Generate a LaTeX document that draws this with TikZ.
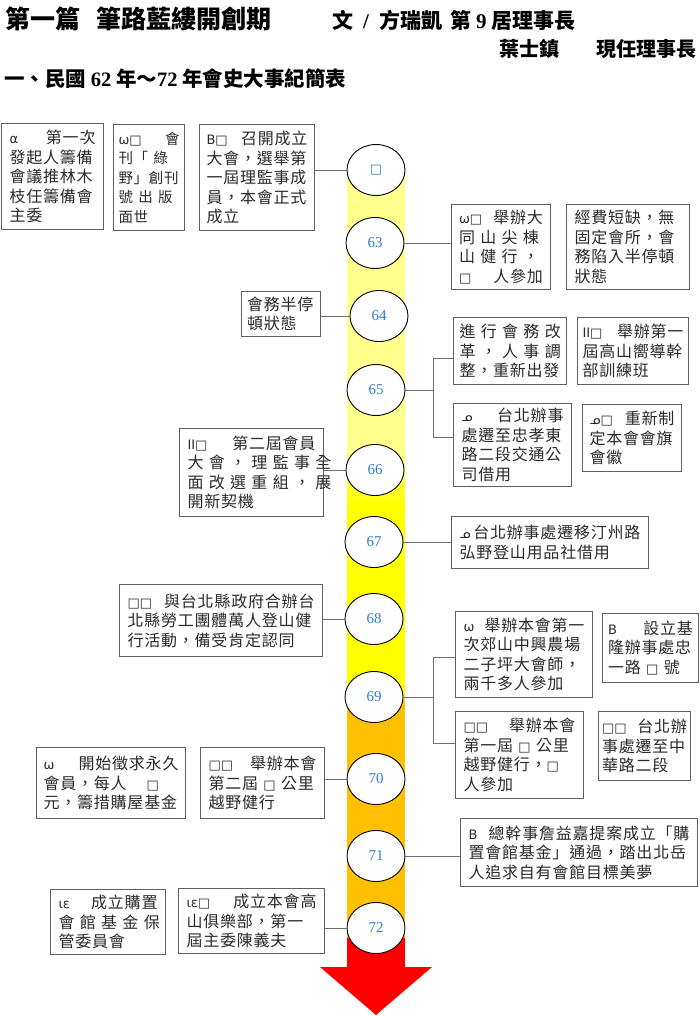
\documentclass[tikz,border=0pt]{standalone}
\usepackage{fontspec}
\usetikzlibrary{shapes.geometric}
\newfontfamily\cjkf{Noto Sans CJK TC}
\newfontfamily\boxcjk{Noto Sans CJK TC}[LetterSpace=5]
\newfontfamily\numf{Liberation Serif}
\newfontfamily\dv{DejaVu Sans}
\definecolor{boxgray}{HTML}{606060}
\definecolor{linkgray}{HTML}{707070}
\definecolor{txt}{HTML}{2A2A2A}
\definecolor{numblue}{HTML}{3080D0}
\definecolor{paleyel}{HTML}{FFFF8C}
\definecolor{yel}{HTML}{FFFF00}
\definecolor{org}{HTML}{FFC000}
\definecolor{arred}{HTML}{FF0000}
\newcommand\pfx[1]{{\dv\fontsize{13}{13}\selectfont #1}}
\newcommand\spr[1]{\makebox[\linewidth][s]{#1}}
\tikzset{
  evbox/.style={draw=boxgray, line width=1pt, fill=white, inner sep=0pt, anchor=north west, align=left, text=txt, font=\boxcjk\fontsize{16}{19.5}\selectfont},
  yr/.style={ellipse, draw=black, line width=0.9pt, fill=white, minimum width=58pt, minimum height=51pt, inner sep=0pt, text=numblue, font=\numf\fontsize{15}{15}\selectfont},
  link/.style={draw=linkgray, line width=0.9pt},
  hdr/.style={inner sep=0pt, text=black},
}
\begin{document}
\begin{tikzpicture}[x=1pt,y=-1pt]
\useasboundingbox (0,0) rectangle (700,1016);
\fill[white] (0,0) rectangle (700,1016);
% header
\node[hdr, anchor=base west, font=\cjkf\bfseries\fontsize{25}{25}\selectfont] (t1) at (5,29) {第一篇\hskip 16pt筆路藍縷開創期};
\node[hdr, anchor=base west, font=\cjkf\bfseries\fontsize{21}{21}\selectfont] (t2) at (332,29) {文\hskip 10pt{\numf\bfseries /}\hskip 10pt方瑞凱\hskip 8pt第\hskip 5pt{\numf\bfseries 9}\hskip 5pt居理事長};
\node[hdr, anchor=base east, font=\cjkf\bfseries\fontsize{20}{20}\selectfont] (t3) at (697,57) {葉士鎮\hskip 37pt現任理事長};
\node[hdr, anchor=base west, font=\cjkf\bfseries\fontsize{20.5}{20.5}\selectfont] (t4) at (4,87) {一、民國 {\numf\bfseries 62} 年～{\numf\bfseries 72} 年會史大事紀簡表};
% arrow body
\fill[paleyel] (347,170) rectangle (405,450);
\shade[top color=paleyel, bottom color=yel] (347,450) rectangle (405,505);
\fill[yel] (347,505) rectangle (405,700);
\fill[org] (347,700) rectangle (405,938);
\fill[arred] (347,938) rectangle (405,968);
\fill[arred] (320,967) -- (432,967) -- (376,1015) -- cycle;
% year circles
\node[yr] (c0) at (376,170) {\pfx{□}};
\node[yr] (c63) at (375,243) {63};
\node[yr] (c64) at (379,316) {64};
\node[yr] (c65) at (376,390) {65};
\node[yr] (c66) at (375,470) {66};
\node[yr] (c67) at (374,542) {67};
\node[yr] (c68) at (374,619) {68};
\node[yr] (c69) at (374,697) {69};
\node[yr] (c70) at (376,779) {70};
\node[yr] (c71) at (376,856) {71};
\node[yr] (c72) at (376,928) {72};
% event boxes
\node[evbox, minimum width=102pt, minimum height=106pt, text width=86pt] (A) at (1,123) {\pfx{α}\hfill 第一次\\發起人籌備\\會議推林木\\枝任籌備會\\主委};
\node[evbox, minimum width=71pt, minimum height=106pt, text width=61pt] (B) at (113,124) {\fontsize{14.5}{19.5}\selectfont\pfx{ω□}\hfill 會\\\spr{刊「 綠}\\野」創刊\\\spr{號 出 版}\\面世};
\node[evbox, minimum width=115pt, minimum height=106pt, text width=101pt] (C) at (199,124) {\pfx{B□}\hfill 召開成立\\大會，選舉第\\一屆理監事成\\員，本會正式\\成立};
\node[evbox, minimum width=99pt, minimum height=85pt, text width=84pt] (D) at (451,204) {\pfx{ω□}\hfill 舉辦大\\\spr{同 山 尖 棟}\\\spr{山 健 行 ，}\\\pfx{□}\hfill 人參加};
\node[evbox, minimum width=123pt, minimum height=85pt, text width=107pt] (E) at (566,204) {經費短缺，無\\固定會所，會\\務陷入半停頓\\狀態};
\node[evbox, minimum width=79pt, minimum height=45pt, text width=68pt] (F) at (241,291) {會務半停\\頓狀態};
\node[evbox, minimum width=113pt, minimum height=67pt, text width=101pt] (G) at (453,317) {\spr{進 行 會 務 改}\\\spr{革 ， 人 事 調}\\整，重新出發};
\node[evbox, minimum width=111pt, minimum height=67pt, text width=101pt] (H) at (577,317) {\pfx{ΙΙ□}\hfill 舉辦第一\\屆高山嚮導幹\\部訓練班};
\node[evbox, minimum width=118pt, minimum height=83pt, text width=102pt] (I) at (453,403) {\pfx{ᓄ}\hfill 台北辦事\\處遷至忠孝東\\路二段交通公\\司借用};
\node[evbox, minimum width=99pt, minimum height=67pt, text width=85pt] (J) at (582,404) {\pfx{ᓄ□}\hfill 重新制\\定本會會旗\\會徽};
\node[evbox, minimum width=144pt, minimum height=88pt, text width=128pt] (K) at (179,428) {\pfx{ΙΙ□}\hfill 第二屆會員\\\spr{大 會 ， 理 監 事 全}\\\spr{面 改 選 重 組 ， 展}\\開新契機};
\node[evbox, minimum width=197pt, minimum height=52pt, text width=181pt] (L) at (451,516) {\pfx{ᓄ}\hfill 台北辦事處遷移汀州路\\弘野登山用品社借用};
\node[evbox, minimum width=203pt, minimum height=72pt, text width=187pt] (M) at (119,584) {\pfx{□□}\hfill 與台北縣政府合辦台\\北縣勞工團體萬人登山健\\行活動，備受肯定認同};
\node[evbox, minimum width=137pt, minimum height=86pt, text width=121pt] (N) at (455,611) {\pfx{ω}\hfill 舉辦本會第一\\次郊山中興農場\\二子坪大會師，\\兩千多人參加};
\node[evbox, minimum width=96pt, minimum height=69pt, text width=85pt] (O) at (602,613) {\pfx{B}\hfill 設立基\\隆辦事處忠\\一路 \pfx{□} 號};
\node[evbox, minimum width=128pt, minimum height=87pt, text width=112pt] (P) at (455,711) {\pfx{□□}\hfill 舉辦本會\\第一屆 \pfx{□} 公里\\越野健行，\pfx{□}\\人參加};
\node[evbox, minimum width=92pt, minimum height=69pt, text width=85pt] (Q) at (598,711) {\pfx{□□}\hfill 台北辦\\事處遷至中\\華路二段};
\node[evbox, minimum width=149pt, minimum height=71pt, text width=135pt] (R) at (36,747) {\pfx{ω}\hfill 開始徵求永久\\會員，每人\hskip 20pt\pfx{□}\\元，籌措購屋基金};
\node[evbox, minimum width=124pt, minimum height=71pt, text width=108pt] (S) at (200,747) {\pfx{□□}\hfill 舉辦本會\\第二屆 \pfx{□} 公里\\越野健行};
\node[evbox, minimum width=237pt, minimum height=68pt, text width=221pt] (T) at (460,818) {\pfx{B}\hfill 總幹事詹益嘉提案成立「購\\置會館基金」通過，踏出北岳\\人追求自有會館目標美夢};
\node[evbox, minimum width=115pt, minimum height=65pt, text width=99pt] (U) at (50,889) {\pfx{ιε}\hfill 成立購置\\\spr{會 館 基 金 保}\\管委員會};
\node[evbox, minimum width=146pt, minimum height=65pt, text width=130pt] (V) at (178,888) {\pfx{ιε□}\hfill 成立本會高\\山俱樂部，第一\\屆主委陳義夫};
% connectors
\draw[link] (c0.west) -- (c0.west -| C.east);
\draw[link] (c63.east) -- (c63.east -| D.west);
\draw[link] (c64.west) -- (c64.west -| F.east);
\coordinate (j65t) at (433,358);
\coordinate (j65b) at (433,437);
\draw[link] (c65.east) -- (c65.east -| j65t);
\draw[link] (j65t -| G.west) -- (j65t) -- (j65b) -- (j65b -| I.west);
\draw[link] (c66.west) -- (c66.west -| K.east);
\draw[link] (c67.east) -- (c67.east -| L.west);
\draw[link] (c68.west) -- (c68.west -| M.east);
\coordinate (j69t) at (433,657);
\coordinate (j69b) at (433,743);
\draw[link] (c69.east) -- (c69.east -| j69t);
\draw[link] (j69t -| N.west) -- (j69t) -- (j69b) -- (j69b -| P.west);
\draw[link] (c70.west) -- (c70.west -| S.east);
\draw[link] (c71.east) -- (c71.east -| T.west);
\draw[link] (c72.west) -- (c72.west -| V.east);
\end{tikzpicture}
\end{document}
